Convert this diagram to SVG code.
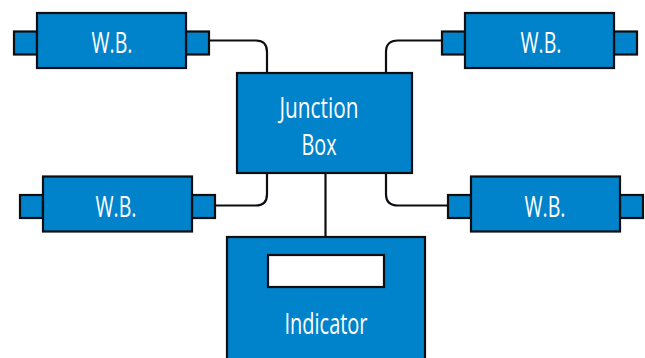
<svg xmlns="http://www.w3.org/2000/svg" width="645" height="358" viewBox="0 0 645 358">
<style>
.b{fill:#0083cb;stroke:#0d0d12;stroke-width:2.200}
.c{fill:none;stroke:#0d0d12;stroke-width:2.200}
.t{font-family:"Open Sans","Liberation Sans",sans-serif;font-size:29px;fill:#fff;text-anchor:middle}
</style>
<rect width="645" height="358" fill="#fff"/>
<g id="connectors">
<path class="c" d="M209 40.500H256Q267 40.500 267 52V73"/>
<path class="c" d="M215 205.500H256Q267 205.500 267 194V173"/>
<path class="c" d="M441 40.500H398Q386 40.500 386 52V73"/>
<path class="c" d="M448 205.500H398Q386 205.500 386 194V173"/>
<path class="c" d="M325.500 173V237"/>
</g>
<g id="wb-top-left">
<rect class="b" x="14" y="31.500" width="23" height="23"/><rect class="b" x="186" y="31.500" width="23" height="23"/>
<rect class="b" x="37" y="13" width="149" height="55"/>
<text class="t" x="112" y="53" textLength="41" lengthAdjust="spacingAndGlyphs">W.B.</text>
</g>
<g id="wb-top-right">
<rect class="b" x="442" y="31.500" width="23" height="23"/><rect class="b" x="614" y="31.500" width="23" height="23"/>
<rect class="b" x="465" y="13" width="149" height="55"/>
<text class="t" x="541" y="53" textLength="41" lengthAdjust="spacingAndGlyphs">W.B.</text>
</g>
<g id="wb-bottom-left">
<rect class="b" x="20" y="195" width="23" height="23"/><rect class="b" x="192" y="195" width="23" height="23"/>
<rect class="b" x="43" y="176.500" width="149" height="55"/>
<text class="t" x="116" y="217" textLength="41" lengthAdjust="spacingAndGlyphs">W.B.</text>
</g>
<g id="wb-bottom-right">
<rect class="b" x="448" y="195" width="23" height="23"/><rect class="b" x="620" y="195" width="23" height="23"/>
<rect class="b" x="471" y="176.500" width="149" height="55"/>
<text class="t" x="545" y="217" textLength="41" lengthAdjust="spacingAndGlyphs">W.B.</text>
</g>
<g id="junction-box">
<rect class="b" x="237" y="73" width="175" height="100"/>
<text class="t" x="319" y="118" textLength="79" lengthAdjust="spacingAndGlyphs">Junction</text>
<text class="t" x="319" y="155" textLength="35" lengthAdjust="spacingAndGlyphs">Box</text>
</g>
<g id="indicator">
<rect class="b" x="227" y="237" width="198" height="130"/>
<rect x="268" y="255" width="116" height="32" fill="#fff" stroke="#0d0d12" stroke-width="2.200"/>
<text class="t" x="326" y="334" textLength="83" lengthAdjust="spacingAndGlyphs">Indicator</text>
</g>
</svg>
